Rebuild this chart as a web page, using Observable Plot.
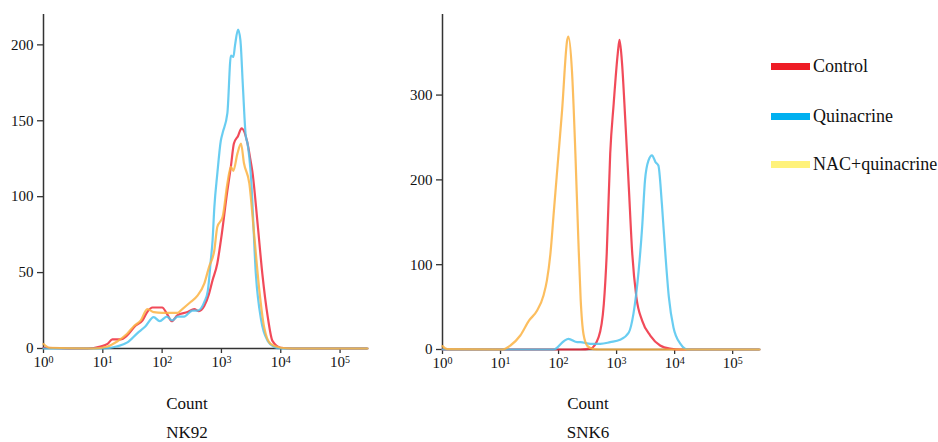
<!DOCTYPE html>
<html><head><meta charset="utf-8">
<script src="https://cdn.jsdelivr.net/npm/d3@7"></script>
<script src="https://cdn.jsdelivr.net/npm/@observablehq/plot@0.6"></script>
<style>
body{margin:0;background:#fff;}
#wrap{position:relative;width:938px;height:442px;font-family:"Liberation Serif","Times New Roman",serif;color:#111;}
#wrap svg text{font-family:"Liberation Serif","Times New Roman",serif;font-size:15px;fill:#111;}
.panel{position:absolute;top:0;}
.lab{position:absolute;font-size:17px;line-height:14px;height:14px;text-align:center;width:200px;}
.leg{position:absolute;left:771px;font-size:18px;line-height:20px;display:flex;align-items:center;white-space:nowrap;}
.sw{width:39px;height:7px;margin-right:3px;}
</style>
</head><body><div id="wrap"></div>
<script>
// ---- data ----
const groups = ["Control", "Quinacrine", "NAC+quinacrine"];
const lineColors = ["#ee2a3c", "#4fc4ee", "#fbb343"];
const legendColors = ["#ee1c25", "#00b0f0", "#fff27a"];
const xTicks = [1, 10, 100, 1000, 10000, 100000];
const xMax = 290000;

const nk92ControlX = [1, 3.2, 5.5, 9.1, 12, 14.5, 20, 25.7, 35.5, 46.8, 56, 69, 100, 120, 145, 182, 269, 347, 417, 513, 617, 708, 851, 977, 1259, 1445, 1622, 1905, 2188, 2754, 3090, 3311, 4074, 4898, 6026, 7244, 10000, 15849, 290000];
const nk92ControlY = [0.5, 0, 0, 1.3, 3, 6, 6, 8.6, 15, 18.5, 24, 27, 27, 23, 18, 22, 24, 26, 24.6, 28, 36, 45, 56, 71, 104, 120, 135, 140, 145, 135, 124, 117, 82, 49, 21, 5, 0.5, 0, 0];
const nk92QuinX = [1, 10.5, 17, 26, 38, 52, 72, 91, 120, 148, 182, 234, 324, 398, 513, 589, 661, 708, 759, 851, 977, 1047, 1259, 1445, 1585, 1698, 1905, 2089, 2291, 2570, 2754, 3162, 3802, 4677, 6026, 7762, 10000, 290000];
const nk92QuinY = [0, 0, 1.3, 4, 10, 14.5, 20.7, 18, 21, 18.5, 21, 21, 25, 25, 30.6, 38, 58, 71, 93, 115, 137, 142, 155, 193, 192, 200, 210, 203, 174, 140, 135, 112, 49, 18.5, 5, 1, 0, 0];
const nk92NacX = [1, 1.26, 7.1, 12, 17.4, 25.7, 33.9, 43.7, 56.2, 72.4, 100, 141, 182, 219, 302, 398, 513, 617, 759, 851, 1047, 1259, 1445, 1585, 1862, 2138, 2399, 2951, 3548, 4365, 5248, 6761, 10000, 15849, 290000];
const nk92NacY = [3, 0.5, 0, 1.3, 4.6, 9.7, 15, 18.5, 26, 24, 23.5, 23.5, 23.5, 26, 30.6, 35, 42.7, 53.7, 64.7, 80, 86.7, 108.7, 119.7, 117, 128.5, 135, 122, 108.7, 75.7, 38, 14, 3, 0.5, 0, 0];

const snk6ControlX = [1, 237, 355, 490, 603, 676, 776, 891, 1047, 1122, 1230, 1413, 1622, 1862, 2188, 2754, 3802, 5623, 8318, 12589, 290000];
const snk6ControlY = [0, 0, 1, 14.5, 54, 113, 231, 290, 349, 365, 341, 270, 192, 113, 62, 34, 16.5, 4.7, 1, 0, 0];
const snk6QuinX = [1, 83, 123, 148, 209, 237, 355, 525, 776, 1148, 1622, 1950, 2399, 2754, 3090, 3548, 4074, 4677, 5248, 6026, 6918, 7943, 9550, 12589, 15136, 17783, 290000];
const snk6QuinY = [0, 0, 9.8, 12.6, 8.7, 8.7, 6.7, 6.7, 8.7, 11.4, 20, 42, 93, 144, 200, 223, 229, 221, 217, 172, 113, 62, 26, 6.7, 1, 0, 0];
const snk6NacX = [1, 1.2, 10.7, 14.8, 21.9, 30.9, 42.7, 55, 63, 72.4, 83.2, 100, 115, 141, 148, 170, 195, 219, 240, 269, 316, 398, 501, 290000];
const snk6NacY = [4, 0.5, 0, 4.7, 16.5, 34, 46, 63.7, 81.5, 113, 164, 231, 282, 365, 369, 329, 231, 130, 60, 18, 4, 0.5, 0, 0];

const nk92YTicks = [0, 50, 100, 150, 200];
const snk6YTicks = [0, 100, 200, 300];
const exponents = ["0", "1", "2", "3", "4", "5"];

// ---- build tables ----
function rows(list) {
  const out = [];
  list.forEach(([g, xs, ys]) => xs.forEach((x, i) => out.push({group: g, intensity: x, count: ys[i]})));
  return out;
}
const nk92Rows = rows([[groups[0], nk92ControlX, nk92ControlY], [groups[1], nk92QuinX, nk92QuinY], [groups[2], nk92NacX, nk92NacY]]);
const snk6Rows = rows([[groups[0], snk6ControlX, snk6ControlY], [groups[1], snk6QuinX, snk6QuinY], [groups[2], snk6NacX, snk6NacY]]);

const fmtX = d => "10^" + exponents[Math.round(Math.log10(d))];

function panel(data, yMax, yTicks, marginLeft, marginRight, marginBottom) {
  const svg = Plot.plot({
    width: 380, height: 380,
    marginTop: 14, marginLeft, marginRight, marginBottom,
    x: {type: "log", domain: [1, xMax]},
    y: {domain: [0, yMax]},
    color: {domain: groups, range: lineColors},
    style: {fontFamily: '"Liberation Serif","Times New Roman",serif', fontSize: "15px", color: "#111", background: "transparent", overflow: "visible"},
    marks: [
      Plot.axisY({ticks: yTicks, tickSize: 6, tickPadding: 4, label: null, stroke: "#333", strokeWidth: 1.3}),
      Plot.axisX({ticks: xTicks, tickFormat: fmtX, tickSize: 5, tickPadding: 3, label: null, stroke: "#333", strokeWidth: 1.3}),
      Plot.ruleX([1], {stroke: "#333", strokeWidth: 1.5}),
      Plot.ruleY([0], {stroke: "#333", strokeWidth: 1.5}),
      Plot.line(data, {x: "intensity", y: "count", z: "group", stroke: "group", curve: "monotone-x", strokeWidth: 2.2, strokeOpacity: 0.85})
    ]
  });
  // render "10^n" tick labels as 10 with a raised exponent
  svg.querySelectorAll("text").forEach(t => {
    const m = /^10\^(\d)$/.exec(t.textContent);
    if (m) {
      t.textContent = "10";
      const ts = document.createElementNS("http://www.w3.org/2000/svg", "tspan");
      ts.setAttribute("dy", "-0.45em");
      ts.setAttribute("style", "font-size:10px");
      ts.textContent = m[1];
      t.appendChild(ts);
    }
  });
  return svg;
}

const wrap = document.getElementById("wrap");
const left = panel(nk92Rows, 220, nk92YTicks, 43, 13, 32);
left.classList.add("panel"); left.style.left = "0px";
wrap.appendChild(left);
const right = panel(snk6Rows, 395, snk6YTicks, 52, 11, 31);
right.classList.add("panel"); right.style.left = "390px";
wrap.appendChild(right);

function label(text, cx, cy) {
  const d = document.createElement("div");
  d.className = "lab"; d.textContent = text;
  d.style.left = (cx - 100) + "px"; d.style.top = (cy - 7) + "px";
  wrap.appendChild(d);
}
label("Count", 187, 404);
label("NK92", 187, 433);
label("Count", 588, 404);
label("SNK6", 588, 433);

const legendY = [66, 116, 164];
groups.forEach((g, i) => {
  const d = document.createElement("div");
  d.className = "leg";
  d.style.top = (legendY[i] - 10) + "px";
  const s = document.createElement("div");
  s.className = "sw"; s.style.background = legendColors[i];
  const t = document.createElement("span"); t.textContent = g;
  d.appendChild(s); d.appendChild(t);
  wrap.appendChild(d);
});
</script>
</body></html>
